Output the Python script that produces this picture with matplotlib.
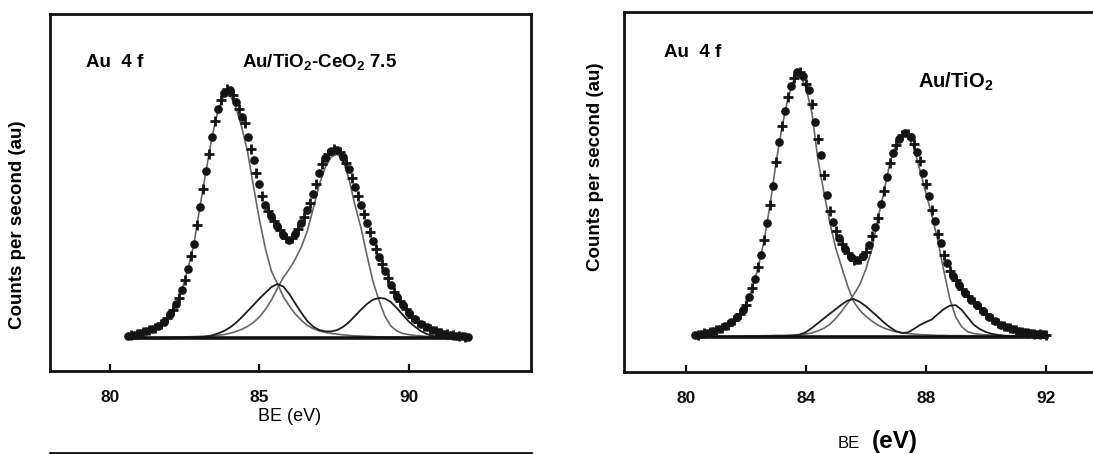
import matplotlib
matplotlib.use('Agg')
import matplotlib.pyplot as plt
from matplotlib.lines import Line2D

plt.rcParams['font.family'] = ['Liberation Sans', 'DejaVu Sans']
plt.rcParams['mathtext.fontset'] = 'custom'
plt.rcParams['mathtext.rm'] = 'Liberation Sans:bold'
plt.rcParams['mathtext.it'] = 'Liberation Sans:bold'
plt.rcParams['mathtext.bf'] = 'Liberation Sans:bold'

# ---------------- Left panel: Au/TiO2-CeO2 7.5 ----------------
be_left = [80.6, 80.7, 80.8, 80.9, 81.0, 81.1, 81.2, 81.3, 81.4, 81.5,
           81.6, 81.7, 81.8, 81.9, 82.0, 82.1, 82.2, 82.3, 82.4, 82.5,
           82.6, 82.7, 82.8, 82.9, 83.0, 83.1, 83.2, 83.3, 83.4, 83.5,
           83.6, 83.7, 83.8, 83.9, 84.0, 84.1, 84.2, 84.3, 84.4, 84.5,
           84.6, 84.7, 84.8, 84.9, 85.0, 85.1, 85.2, 85.3, 85.4, 85.5,
           85.6, 85.7, 85.8, 85.9, 86.0, 86.1, 86.2, 86.3, 86.4, 86.5,
           86.6, 86.7, 86.8, 86.9, 87.0, 87.1, 87.2, 87.3, 87.4, 87.5,
           87.6, 87.7, 87.8, 87.9, 88.0, 88.1, 88.2, 88.3, 88.4, 88.5,
           88.6, 88.7, 88.8, 88.9, 89.0, 89.1, 89.2, 89.3, 89.4, 89.5,
           89.6, 89.7, 89.8, 89.9, 90.0, 90.1, 90.2, 90.3, 90.4, 90.5,
           90.6, 90.7, 90.8, 90.9, 91.0, 91.1, 91.2, 91.3, 91.4, 91.5,
           91.6, 91.7, 91.8, 91.9, 92.0]
cps_left = [1.0, 1.2, 1.5, 1.8, 2.1, 2.5, 2.9, 3.3, 3.7, 4.1,
            4.8, 5.6, 6.6, 8.0, 9.6, 11.5, 13.6, 16.2, 19.6, 23.4,
            28.0, 33.0, 38.0, 45.5, 52.9, 60.0, 67.0, 74.0, 81.0, 87.3,
            92.0, 95.8, 98.5, 100.0, 99.6, 97.6, 95.0, 92.0, 89.0, 86.5,
            81.0, 76.0, 71.5, 66.5, 62.0, 57.0, 53.5, 51.0, 49.0, 47.0,
            45.0, 43.3, 41.5, 40.2, 39.5, 40.3, 41.8, 43.8, 46.2, 48.8,
            51.5, 54.5, 58.0, 62.0, 66.5, 70.0, 72.5, 74.2, 75.3, 76.0,
            75.8, 74.8, 72.8, 70.5, 67.8, 64.5, 60.9, 57.3, 53.6, 50.0,
            46.2, 42.8, 39.0, 35.8, 32.6, 29.9, 27.2, 24.3, 21.4, 18.8,
            16.7, 14.9, 13.3, 11.7, 10.1, 8.7, 7.7, 6.7, 5.8, 5.0,
            4.4, 3.8, 3.3, 2.8, 2.4, 2.0, 1.8, 1.6, 1.4, 1.2,
            1.0, 0.9, 0.8, 0.7, 0.6]

fit_be_left = [80.6, 80.8, 81.0, 81.2, 81.4, 81.6, 81.8, 82.0, 82.2, 82.4,
               82.6, 82.8, 83.0, 83.2, 83.4, 83.6, 83.8, 84.0, 84.2, 84.4,
               84.6, 84.8, 85.0, 85.2, 85.4, 85.6, 85.8, 86.0, 86.2, 86.4,
               86.6, 86.8, 87.0, 87.2, 87.4, 87.6, 87.8, 88.0, 88.2, 88.4,
               88.6, 88.8, 89.0, 89.2, 89.4, 89.6, 89.8, 90.0, 90.2, 90.4,
               90.6, 90.8, 91.0, 91.2, 91.4, 91.6, 91.8, 92.0]
au72_left = [0.8, 1.3, 1.8, 2.5, 3.4, 4.6, 6.4, 9.3, 13.4, 19.4,
             27.8, 37.6, 52.5, 66.5, 80.3, 91.0, 97.3, 98.0, 93.0, 85.0,
             75.0, 61.0, 47.5, 36.0, 27.0, 22.0, 16.8, 13.0, 9.8, 7.3,
             5.2, 3.9, 3.0, 2.4, 2.0, 1.7, 1.4, 1.2, 1.0, 0.9,
             0.8, 0.7, 0.6, 0.6, 0.5, 0.5, 0.4, 0.4, 0.4, 0.3,
             0.3, 0.3, 0.3, 0.2, 0.2, 0.2, 0.2, 0.2]
au52_left = [0.2, 0.2, 0.2, 0.3, 0.3, 0.3, 0.4, 0.4, 0.5, 0.5,
             0.6, 0.7, 0.8, 0.9, 1.0, 1.2, 1.5, 2.0, 2.7, 3.6,
             4.8, 6.4, 8.6, 11.6, 15.4, 20.0, 24.5, 27.8, 31.8, 36.6,
             43.0, 52.0, 61.5, 68.5, 72.8, 74.0, 71.5, 64.0, 53.5, 44.5,
             33.5, 23.0, 15.5, 9.0, 5.0, 3.0, 2.0, 1.5, 1.2, 1.0,
             0.8, 0.7, 0.6, 0.5, 0.4, 0.4, 0.3, 0.3]
auox_left = [0.0, 0.0, 0.0, 0.0, 0.0, 0.0, 0.0, 0.0, 0.1, 0.1,
             0.2, 0.3, 0.4, 0.7, 1.2, 1.9, 2.9, 4.3, 6.1, 8.4,
             10.9, 13.4, 16.0, 18.3, 20.6, 21.8, 20.8, 17.8, 14.0, 10.3,
             7.0, 4.7, 3.4, 2.8, 2.8, 3.3, 4.6, 6.5, 9.0, 11.5,
             13.8, 15.5, 16.2, 16.0, 14.6, 12.2, 9.5, 6.8, 4.8, 3.0,
             1.8, 1.0, 0.6, 0.4, 0.3, 0.2, 0.1, 0.1]
bg_be_left = [80.6, 92.0]
bg_left = [0.0, 0.0]

# ---------------- Right panel: Au/TiO2 ----------------
be_right = [80.3, 80.4, 80.5, 80.6, 80.7, 80.8, 80.9, 81.0, 81.1, 81.2,
            81.3, 81.4, 81.5, 81.6, 81.7, 81.8, 81.9, 82.0, 82.1, 82.2,
            82.3, 82.4, 82.5, 82.6, 82.7, 82.8, 82.9, 83.0, 83.1, 83.2,
            83.3, 83.4, 83.5, 83.6, 83.7, 83.8, 83.9, 84.0, 84.1, 84.2,
            84.3, 84.4, 84.5, 84.6, 84.7, 84.8, 84.9, 85.0, 85.1, 85.2,
            85.3, 85.4, 85.5, 85.6, 85.7, 85.8, 85.9, 86.0, 86.1, 86.2,
            86.3, 86.4, 86.5, 86.6, 86.7, 86.8, 86.9, 87.0, 87.1, 87.2,
            87.3, 87.4, 87.5, 87.6, 87.7, 87.8, 87.9, 88.0, 88.1, 88.2,
            88.3, 88.4, 88.5, 88.6, 88.7, 88.8, 88.9, 89.0, 89.1, 89.2,
            89.3, 89.4, 89.5, 89.6, 89.7, 89.8, 89.9, 90.0, 90.1, 90.2,
            90.3, 90.4, 90.5, 90.6, 90.7, 90.8, 90.9, 91.0, 91.1, 91.2,
            91.3, 91.4, 91.5, 91.6, 91.7, 91.8, 91.9, 92.0]
cps_right = [0.8, 0.9, 1.1, 1.4, 1.6, 1.9, 2.2, 2.6, 3.0, 3.4,
             4.0, 4.7, 5.5, 6.3, 7.5, 8.8, 10.3, 12.2, 15.0, 18.4,
             22.0, 26.5, 31.0, 36.5, 43.0, 49.8, 57.0, 66.0, 73.5, 79.5,
             85.0, 90.5, 94.5, 97.8, 99.7, 99.8, 98.2, 95.5, 93.0, 88.0,
             81.0, 74.8, 68.5, 61.0, 53.5, 47.5, 43.2, 40.0, 37.3, 35.2,
             33.3, 31.8, 30.2, 29.2, 29.0, 29.5, 30.6, 32.2, 34.7, 38.0,
             41.5, 45.0, 50.0, 55.0, 60.3, 65.5, 69.5, 72.5, 74.8, 76.3,
             77.0, 76.5, 75.2, 72.8, 69.8, 66.5, 61.8, 57.5, 53.3, 48.0,
             43.8, 38.8, 35.4, 31.0, 28.0, 25.0, 23.0, 21.5, 19.6, 18.0,
             16.6, 15.4, 14.1, 13.0, 11.9, 10.8, 9.8, 8.7, 7.6, 6.8,
             5.9, 5.2, 4.6, 4.0, 3.6, 3.2, 2.9, 2.6, 2.3, 2.0,
             1.8, 1.5, 1.4, 1.3, 1.2, 1.1, 1.0, 0.9]

fit_be_right = [80.4, 80.6, 80.8, 81.0, 81.2, 81.4, 81.6, 81.8, 82.0, 82.2,
                82.4, 82.6, 82.8, 83.0, 83.2, 83.4, 83.6, 83.8, 84.0, 84.2,
                84.4, 84.6, 84.8, 85.0, 85.2, 85.4, 85.6, 85.8, 86.0, 86.2,
                86.4, 86.6, 86.8, 87.0, 87.2, 87.4, 87.6, 87.8, 88.0, 88.2,
                88.4, 88.6, 88.8, 89.0, 89.2, 89.4, 89.6, 89.8, 90.0, 90.2,
                90.4, 90.6, 90.8, 91.0, 91.2, 91.4, 91.6, 91.8, 92.0]
au72_right = [0.8, 1.2, 1.7, 2.3, 3.1, 4.4, 6.0, 8.5, 11.8, 18.0,
              26.0, 36.0, 49.5, 65.5, 79.0, 90.0, 97.0, 98.8, 94.0, 84.5,
              67.0, 54.5, 43.0, 33.3, 26.0, 19.0, 13.2, 10.0, 7.8, 6.0,
              4.5, 3.4, 2.6, 2.0, 1.6, 1.3, 1.1, 0.9, 0.8, 0.7,
              0.6, 0.6, 0.5, 0.5, 0.5, 0.4, 0.4, 0.4, 0.3, 0.3,
              0.3, 0.3, 0.2, 0.2, 0.2, 0.2, 0.2, 0.2, 0.2]
au52_right = [0.2, 0.2, 0.2, 0.2, 0.3, 0.3, 0.3, 0.3, 0.4, 0.4,
              0.4, 0.5, 0.5, 0.6, 0.6, 0.7, 0.8, 0.9, 1.1, 1.5,
              2.3, 3.3, 4.8, 7.0, 9.8, 12.8, 16.0, 19.8, 25.5, 33.0,
              44.5, 54.5, 65.5, 72.5, 75.8, 75.5, 71.5, 63.0, 54.5, 46.0,
              36.5, 25.0, 14.5, 7.5, 3.8, 2.0, 1.3, 1.0, 0.8, 0.7,
              0.6, 0.5, 0.5, 0.4, 0.4, 0.3, 0.3, 0.3, 0.3]
auox_right = [0.0, 0.0, 0.0, 0.0, 0.0, 0.0, 0.0, 0.0, 0.0, 0.0,
              0.1, 0.1, 0.1, 0.2, 0.2, 0.3, 0.5, 0.9, 1.8, 3.4,
              5.2, 7.0, 8.8, 10.5, 12.3, 13.8, 14.3, 13.2, 11.6, 9.6,
              7.6, 5.5, 3.7, 2.2, 1.5, 1.7, 3.0, 4.5, 5.6, 6.6,
              8.6, 10.5, 11.8, 12.0, 10.2, 7.4, 4.6, 3.0, 1.9, 1.2,
              0.8, 0.5, 0.3, 0.2, 0.1, 0.1, 0.0, 0.0, 0.0]
bg_be_right = [80.3, 92.05]
bg_right = [0.0, 0.0]

left_ticks = [80, 85, 90]
right_ticks = [80, 84, 88, 92]

W, H = 1093, 454
fig = plt.figure(figsize=(W / 100, H / 100), dpi=100)
fig.patch.set_facecolor('white')


def px_axes(x0, y0, x1, y1):
    return fig.add_axes([x0 / W, 1 - y1 / H, (x1 - x0) / W, (y1 - y0) / H])


def draw_panel(ax, be, cps, fbe, c1, c2, cox, bgx, bgy, ticks, xlim, ylim, pad):
    ax.plot(fbe, c1, color='#666666', lw=1.2, zorder=2)
    ax.plot(fbe, c2, color='#666666', lw=1.2, zorder=2)
    ax.plot(fbe, cox, color='#1e1e1e', lw=1.3, zorder=2)
    ax.plot(bgx, bgy, color='#111111', lw=2.6, zorder=2)
    ax.plot(be[::2], cps[::2], linestyle='none', marker='o', ms=5.2,
            color='#141414', mec='#141414', zorder=3)
    ax.plot(be[1::2], cps[1::2], linestyle='none', marker='+', ms=7,
            mew=2.0, color='#141414', zorder=3)
    ax.set_xlim(*xlim)
    ax.set_ylim(*ylim)
    ax.set_yticks([])
    ax.set_xticks(ticks)
    ax.set_xticklabels([str(t) for t in ticks], fontsize=12.5, fontweight='bold')
    ax.tick_params(axis='x', direction='in', length=5, width=1.6, pad=pad,
                   colors='#111111')
    for s in ax.spines.values():
        s.set_linewidth(2.0)
        s.set_color('#111111')
    ax.set_facecolor('white')


axL = px_axes(50, 14, 531, 371)
draw_panel(axL, be_left, cps_left, fit_be_left, au72_left, au52_left, auox_left,
           bg_be_left, bg_left, left_ticks, (77.98, 94.1), (-13.1, 130.2), 14)

axR = px_axes(624.3, 12, 1105.6, 372)
draw_panel(axR, be_right, cps_right, fit_be_right, au72_right, au52_right,
           auox_right, bg_be_right, bg_right, right_ticks, (77.94, 94.0),
           (-13.2, 122.5), 13.5)


def ftext(x, y, s, **kw):
    fig.text(x / W, 1 - y / H, s, **kw)


# annotations
ftext(86, 67, 'Au  4 f', fontsize=13.5, fontweight='bold', ha='left', va='baseline')
ftext(242, 67, r'Au/TiO$_2$-CeO$_2$ 7.5', fontsize=13.5, fontweight='bold',
      ha='left', va='baseline')
ftext(664, 57, 'Au  4 f', fontsize=13.5, fontweight='bold', ha='left', va='baseline')
ftext(918, 88, r'Au/TiO$_2$', fontsize=14.5, fontweight='bold', ha='left',
      va='baseline')

# axis titles
ftext(17.5, 225, 'Counts per second (au)', fontsize=13.5, fontweight='bold',
      rotation=90, ha='center', va='center')
ftext(596, 167, 'Counts per second (au)', fontsize=13.5, fontweight='bold',
      rotation=90, ha='center', va='center')
ftext(258, 420.7, 'BE (eV)', fontsize=13, ha='left', va='baseline')
ftext(838, 448, 'BE', fontsize=12, ha='left', va='baseline')
ftext(872, 448, '(eV)', fontsize=17.5, fontweight='bold', ha='left', va='baseline')

# frame of the panel below (partially visible)
fig.add_artist(Line2D([50 / W, 531 / W], [1 - 452.7 / H, 1 - 452.7 / H],
                      color='#111111', lw=2.0))

fig.savefig('out.png', dpi=100, facecolor='white')
